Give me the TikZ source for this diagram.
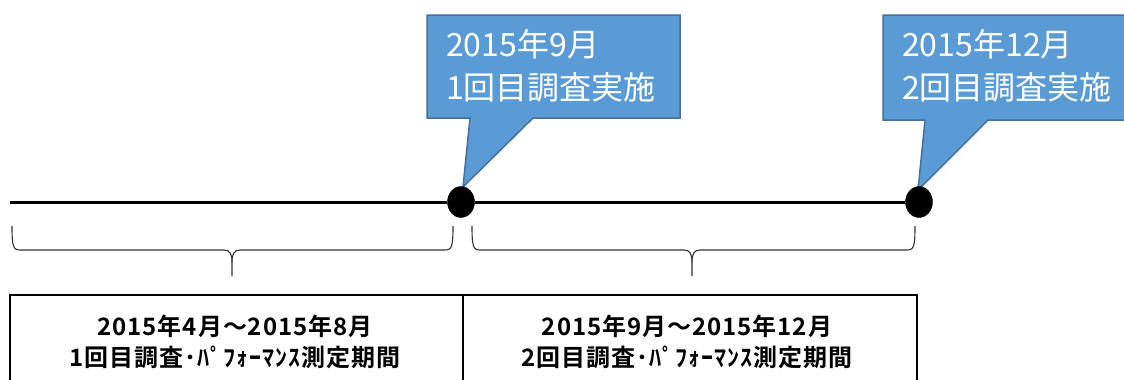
\documentclass[tikz,border=0pt]{standalone}
\usepackage{fontspec}
\usetikzlibrary{shapes.geometric}
\newfontfamily\jp{Noto Sans CJK JP}
\newfontfamily\jpb[LetterSpace=4]{Noto Sans CJK JP Bold}
\definecolor{callfill}{HTML}{5B9BD5}
\definecolor{calledge}{HTML}{41719C}
\tikzset{
  dot/.style={ellipse, fill=black, draw=black, minimum width=27pt, minimum height=31pt, inner sep=0pt},
  callout/.style={fill=callfill, draw=calledge, line width=1.5pt, line join=miter},
  calltext/.style={text=white, font=\jp\fontsize{32}{43}\selectfont, align=left, inner sep=0pt},
  periodbox/.style={draw=black, line width=2pt},
  periodtext/.style={font=\jpb\fontsize{24}{31}\selectfont, align=center, inner sep=0pt},
  bracepath/.style={draw=black!80, line width=1.1pt},
  timeline/.style={line width=3pt}
}
\begin{document}
\begin{tikzpicture}[x=1pt,y=-1pt]
\clip (0,0) rectangle (1124,380);
\fill[white] (0,0) rectangle (1124,380);
% callouts
\path[callout] (427,15) -- (680,15) -- (680,118) -- (533,118) -- (463,187) -- (470,118) -- (427,118) -- cycle;
\path[callout] (883,15) -- (1130,15) -- (1130,120) -- (988,120) -- (918,190) -- (925,120) -- (883,120) -- cycle;
\node[calltext, anchor=west] (c1) at (446,66) {2015年9月\\1回目調査実施};
\node[calltext, anchor=west] (c2) at (902,66) {2015年12月\\2回目調査実施};
% timeline
\coordinate (start) at (10,202);
\node[dot] (d1) at (461,202) {};
\node[dot] (d2) at (919,202) {};
\draw[timeline] (start) -- (d1.west);
\draw[timeline] (d1.east) -- (d2.west);
% braces
\coordinate (b1l) at (12,226);
\coordinate (b1r) at (453,226);
\coordinate (b1m) at (232,276);
\coordinate (b2l) at (472,226);
\coordinate (b2r) at (915,226);
\coordinate (b2m) at (692,276);
\draw[bracepath] (b1l) .. controls (12,246) and (13,250) .. (20,250) -- (224,250) .. controls (230,250) and (232,254) .. (232,262) -- (b1m);
\draw[bracepath] (b1r) .. controls (453,246) and (452,250) .. (445,250) -- (240,250) .. controls (234,250) and (232,254) .. (232,262);
\draw[bracepath] (b2l) .. controls (472,246) and (473,250) .. (480,250) -- (684,250) .. controls (690,250) and (692,254) .. (692,262) -- (b2m);
\draw[bracepath] (b2r) .. controls (915,246) and (914,250) .. (907,250) -- (700,250) .. controls (694,250) and (692,254) .. (692,262);
% period boxes
\draw[periodbox] (10,295) rectangle (463,395);
\draw[periodbox] (463,295) rectangle (917,395);
\node[periodtext] (p1) at (235,342) {2015年4月～2015年8月\\1回目調査･ﾊﾟﾌｫｰﾏﾝｽ測定期間};
\node[periodtext] (p2) at (687,342) {2015年9月～2015年12月\\2回目調査･ﾊﾟﾌｫｰﾏﾝｽ測定期間};
\end{tikzpicture}
\end{document}
